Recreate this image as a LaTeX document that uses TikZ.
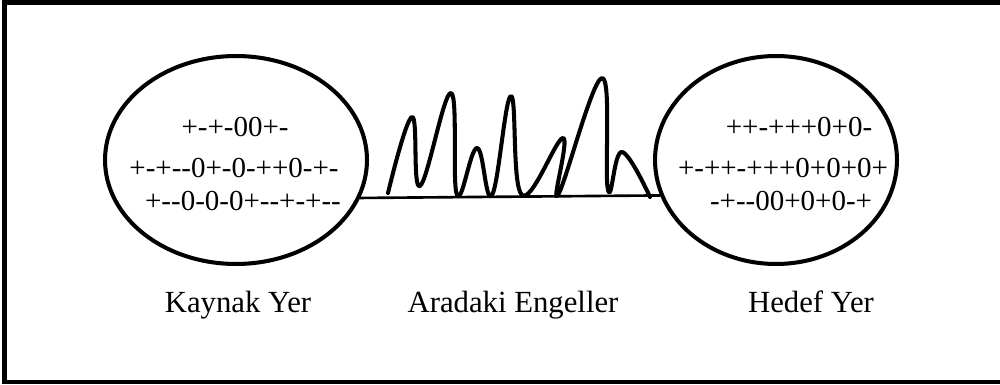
\documentclass[tikz,border=0pt]{standalone}
\usepackage{fontspec}
\setmainfont{Liberation Serif}[Ligatures=TeXOff]
\usetikzlibrary{shapes.geometric}

\begin{document}
\begin{tikzpicture}[x=0.02cm,y=-0.02cm,line cap=round,
	alan/.style={ellipse,draw,line width=2.3pt,inner sep=0pt},
	dizi/.style={anchor=base,inner sep=0pt,font=\fontsize{16.5}{20}\selectfont},
	etiket/.style={anchor=base,inner sep=0pt,font=\fontsize{17.5}{21}\selectfont}]
	
	% ===== cerceve =====
	\useasboundingbox (0,0) rectangle (1000,385);
	\draw[line width=2.8pt] (4.7,2.5) rectangle (1015,382);
	
	% ---- kaynak ve hedef alanlari ----
	\node[alan,minimum width=5.24cm,minimum height=4.16cm] (kaynak) at (236,160) {};
	\node[alan,minimum width=4.84cm,minimum height=4.16cm] (hedef) at (776,160) {};
	
	% ---- isaret dizileri ----
	\node[dizi] (k1) at (235,136) {+-+-00+-};
	\node[dizi] (k2) at (234,177) {+-+--0+-0-++0-+-};
	\node[dizi] (k3) at (243,210) {+--0-0-0+--+-+--};
	\node[dizi] (h1) at (799,136) {++-+++0+0-};
	\node[dizi] (h2) at (783,177) {+-++-+++0+0+0+};
	\node[dizi] (h3) at (791,210) {-+--00+0+0-+};
	
	% ---- zemin cizgisi ----
	\draw[line width=1.5pt] (kaynak.-17) -- (hedef.197);
	
	% ---- engeller (tepeler) ----
	\draw[line width=2.3pt,line join=round]
	plot[smooth,tension=0.7] coordinates {
		(388,193) (412,117) (420,186) (451,93) (457,195) (477,148) (492,195)
		(511,96) (522,195) (563,138) (558,195) (602,78) (608,190) (622,152) (650,197)};
	
	% ---- etiketler ----
	\node[etiket] (kaynakyer) at (238,312) {Kaynak Yer};
	\node[etiket] (engeller) at (513,312) {Aradaki Engeller};
	\node[etiket] (hedefyer) at (811,312) {Hedef Yer};
	
\end{tikzpicture}
\end{document}
